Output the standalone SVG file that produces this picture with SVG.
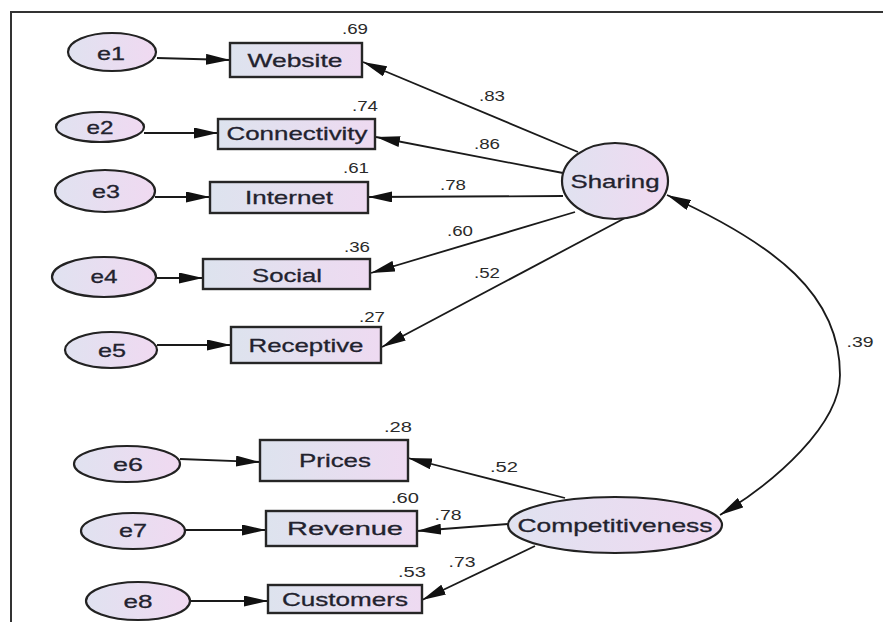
<svg xmlns="http://www.w3.org/2000/svg" width="883" height="622" viewBox="0 0 883 622">
  <defs>
    <linearGradient id="fillBox" x1="0" y1="0" x2="1" y2="0">
      <stop offset="0" stop-color="#dde3ee"/>
      <stop offset="1" stop-color="#eedaf1"/>
    </linearGradient>
    <linearGradient id="fillOval" x1="0" y1="0" x2="1" y2="0">
      <stop offset="0" stop-color="#e0e2f0"/>
      <stop offset="1" stop-color="#f0d9f1"/>
    </linearGradient>
    <marker id="head" viewBox="0 0 24 11" markerWidth="24" markerHeight="11" refX="24" refY="5.5" orient="auto-start-reverse" markerUnits="userSpaceOnUse">
      <path d="M0,0 L24,5.5 L0,11 z" fill="#111"/>
    </marker>
  </defs>
  <style>
    .box { fill: url(#fillBox); stroke: #262626; stroke-width: 2.4; }
    .oval { fill: url(#fillOval); stroke: #222; stroke-width: 2.2; }
    .lbl { font-family: "Liberation Sans", Arial, sans-serif; font-size: 19px; fill: #22222e; text-anchor: middle; stroke: #22222e; stroke-width: 0.3; }
    .num { font-family: "Liberation Sans", Arial, sans-serif; font-size: 14px; fill: #2a2a2a; text-anchor: middle; }
    .edge { fill: none; stroke: #1a1a1a; stroke-width: 1.8; marker-end: url(#head); }
    .frame { stroke: #333; stroke-width: 2; fill: none; }
  </style>

  <rect width="883" height="622" fill="#fff"/>
  <path class="frame" d="M11,622 L11,12 L883,12"/>

  <!-- paths -->
  <g id="connectors">
    <path class="edge" d="M157,58 L230,60"/>
    <path class="edge" d="M144,133 L218,133"/>
    <path class="edge" d="M155,197 L210,197"/>
    <path class="edge" d="M157,278 L203,278"/>
    <path class="edge" d="M157,345 L231,345"/>
    <path class="edge" d="M180,459 L260,462"/>
    <path class="edge" d="M185,530 L266,530"/>
    <path class="edge" d="M190,601 L268,601"/>

    <path class="edge" d="M578,152 L363,62"/>
    <path class="edge" d="M563,173 L376,137"/>
    <path class="edge" d="M563,196 L368,197"/>
    <path class="edge" d="M575,212 L371,273"/>
    <path class="edge" d="M625,218 L382,347"/>

    <path class="edge" d="M565,498 L408,458"/>
    <path class="edge" d="M508,524 L417,531"/>
    <path class="edge" d="M535,546 L422,600"/>

    <path class="edge" style="marker-start:url(#head)" d="M667,195 C777,245 840,295 840,375 C840,425 775,482 720,515"/>
  </g>

  <!-- coefficients -->
  <g id="weights">
    <text class="num" x="355" y="34" textLength="26" lengthAdjust="spacingAndGlyphs">.69</text>
    <text class="num" x="492" y="101" textLength="26" lengthAdjust="spacingAndGlyphs">.83</text>
    <text class="num" x="365" y="111" textLength="26" lengthAdjust="spacingAndGlyphs">.74</text>
    <text class="num" x="487" y="149" textLength="26" lengthAdjust="spacingAndGlyphs">.86</text>
    <text class="num" x="356" y="173" textLength="26" lengthAdjust="spacingAndGlyphs">.61</text>
    <text class="num" x="453" y="190" textLength="26" lengthAdjust="spacingAndGlyphs">.78</text>
    <text class="num" x="460" y="236" textLength="26" lengthAdjust="spacingAndGlyphs">.60</text>
    <text class="num" x="357" y="252" textLength="26" lengthAdjust="spacingAndGlyphs">.36</text>
    <text class="num" x="487" y="278" textLength="26" lengthAdjust="spacingAndGlyphs">.52</text>
    <text class="num" x="372" y="322" textLength="26" lengthAdjust="spacingAndGlyphs">.27</text>
    <text class="num" x="860" y="347" textLength="27" lengthAdjust="spacingAndGlyphs">.39</text>
    <text class="num" x="398" y="432" textLength="28" lengthAdjust="spacingAndGlyphs">.28</text>
    <text class="num" x="504" y="472" textLength="28" lengthAdjust="spacingAndGlyphs">.52</text>
    <text class="num" x="405" y="503" textLength="28" lengthAdjust="spacingAndGlyphs">.60</text>
    <text class="num" x="448" y="520" textLength="27" lengthAdjust="spacingAndGlyphs">.78</text>
    <text class="num" x="462" y="567" textLength="27" lengthAdjust="spacingAndGlyphs">.73</text>
    <text class="num" x="412" y="577" textLength="28" lengthAdjust="spacingAndGlyphs">.53</text>
  </g>

  <!-- error terms -->
  <g id="e1"><ellipse class="oval" cx="112" cy="52" rx="44" ry="19"/><text class="lbl" x="111" y="60" textLength="28" lengthAdjust="spacingAndGlyphs">e1</text></g>
  <g id="e2"><ellipse class="oval" cx="100" cy="127" rx="44" ry="15"/><text class="lbl" x="100" y="134" textLength="27" lengthAdjust="spacingAndGlyphs">e2</text></g>
  <g id="e3"><ellipse class="oval" cx="105" cy="191" rx="50" ry="21"/><text class="lbl" x="106" y="198" textLength="28" lengthAdjust="spacingAndGlyphs">e3</text></g>
  <g id="e4"><ellipse class="oval" cx="104" cy="277" rx="52" ry="20"/><text class="lbl" x="104" y="283" textLength="27" lengthAdjust="spacingAndGlyphs">e4</text></g>
  <g id="e5"><ellipse class="oval" cx="111" cy="350" rx="46" ry="18"/><text class="lbl" x="112" y="357" textLength="28" lengthAdjust="spacingAndGlyphs">e5</text></g>
  <g id="e6"><ellipse class="oval" cx="127" cy="464" rx="53" ry="18"/><text class="lbl" x="128" y="471" textLength="30" lengthAdjust="spacingAndGlyphs">e6</text></g>
  <g id="e7"><ellipse class="oval" cx="133" cy="531" rx="52" ry="18"/><text class="lbl" x="133" y="537" textLength="28" lengthAdjust="spacingAndGlyphs">e7</text></g>
  <g id="e8"><ellipse class="oval" cx="138" cy="601" rx="52" ry="19"/><text class="lbl" x="138" y="608" textLength="29" lengthAdjust="spacingAndGlyphs">e8</text></g>

  <!-- observed indicators -->
  <g id="website"><rect class="box" x="230" y="43" width="132" height="34"/><text class="lbl" x="295" y="67" textLength="95" lengthAdjust="spacingAndGlyphs">Website</text></g>
  <g id="connectivity"><rect class="box" x="218" y="119" width="157" height="30"/><text class="lbl" x="297" y="140" textLength="141" lengthAdjust="spacingAndGlyphs">Connectivity</text></g>
  <g id="internet"><rect class="box" x="210" y="182" width="158" height="31"/><text class="lbl" x="289" y="204" textLength="88" lengthAdjust="spacingAndGlyphs">Internet</text></g>
  <g id="social"><rect class="box" x="203" y="259" width="167" height="30"/><text class="lbl" x="287" y="282" textLength="70" lengthAdjust="spacingAndGlyphs">Social</text></g>
  <g id="receptive"><rect class="box" x="231" y="327" width="150" height="36"/><text class="lbl" x="306" y="352" textLength="115" lengthAdjust="spacingAndGlyphs">Receptive</text></g>
  <g id="prices"><rect class="box" x="260" y="440" width="148" height="41"/><text class="lbl" x="335" y="467" textLength="72" lengthAdjust="spacingAndGlyphs">Prices</text></g>
  <g id="revenue"><rect class="box" x="266" y="511" width="151" height="35"/><text class="lbl" x="345" y="535" textLength="116" lengthAdjust="spacingAndGlyphs">Revenue</text></g>
  <g id="customers"><rect class="box" x="268" y="585" width="154" height="28"/><text class="lbl" x="345" y="606" textLength="126" lengthAdjust="spacingAndGlyphs">Customers</text></g>

  <!-- latent constructs -->
  <g id="sharing"><ellipse class="oval" cx="615" cy="181" rx="53" ry="38"/><text class="lbl" x="615" y="188" textLength="89" lengthAdjust="spacingAndGlyphs">Sharing</text></g>
  <g id="competitiveness"><ellipse class="oval" cx="615" cy="525" rx="107" ry="28"/><text class="lbl" x="615" y="532" textLength="195" lengthAdjust="spacingAndGlyphs">Competitiveness</text></g>
</svg>
